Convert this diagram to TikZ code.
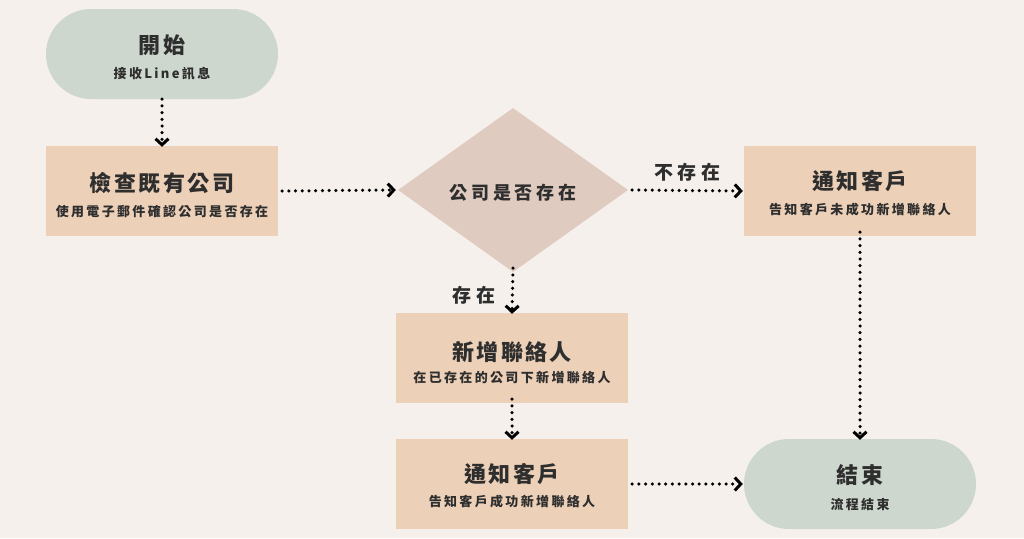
\documentclass[tikz,border=0pt]{standalone}
\usepackage{fontspec}
\newfontfamily\cjk{Noto Sans CJK TC}
\usetikzlibrary{arrows.meta,shapes.geometric,positioning}
\definecolor{bg}{HTML}{F5F0EC}
\definecolor{sage}{HTML}{CDD7CE}
\definecolor{peach}{HTML}{EDD0B8}
\definecolor{rose}{HTML}{E0CBC1}
\definecolor{ink}{HTML}{2E2E2E}
\begin{document}
\begin{tikzpicture}[x=1pt,y=-1pt,
  title/.style={font=\cjk\bfseries\fontsize{22}{24}\selectfont\addfontfeatures{LetterSpace=11}, text=ink},
  sub/.style={font=\cjk\bfseries\fontsize{13}{15}\selectfont\addfontfeatures{LetterSpace=18}, text=ink},
  dtitle/.style={font=\cjk\bfseries\fontsize{18}{20}\selectfont\addfontfeatures{LetterSpace=22}, text=ink},
  lab/.style={font=\cjk\bfseries\fontsize{19}{21}\selectfont\addfontfeatures{LetterSpace=26}, text=ink},
  stepbox/.style={rectangle, fill=peach, minimum width=232pt, minimum height=90pt, align=center, inner sep=0pt},
  pill/.style={rectangle, rounded corners=45pt, fill=sage, minimum width=232pt, minimum height=90pt, align=center, inner sep=0pt},
  decision/.style={diamond, fill=rose, minimum width=230pt, minimum height=164pt, inner sep=0pt, aspect=1.4},
  flow/.style={line width=3.5pt, dash pattern=on 0pt off 6.7pt, line cap=round, -{Straight Barb[length=6pt,width=13pt,line width=3pt,line cap=butt]}}
]
\fill[bg] (0,0) rectangle (1024,538);
\useasboundingbox (0,0) rectangle (1024,538);

\node[pill] (start) at (162,54) {};
\node[title] at (162,45) {開始};
\node[sub] at (162,74) {接收Line訊息};

\node[stepbox] (check) at (162,191) {};
\node[title] at (162,183) {檢查既有公司};
\node[sub] at (162,212) {使用電子郵件確認公司是否存在};

\node[decision] (dec) at (513,190) {};
\node[dtitle] at (513,193) {公司是否存在};

\node[stepbox] (notify1) at (860,191) {};
\node[title] at (860,181) {通知客戶};
\node[sub] at (860,210) {告知客戶未成功新增聯絡人};

\node[stepbox] (add) at (512,358) {};
\node[title] at (512,352) {新增聯絡人};
\node[sub] at (512,378) {在已存在的公司下新增聯絡人};

\node[stepbox] (notify2) at (512,484) {};
\node[title] at (512,474) {通知客戶};
\node[sub] at (512,502) {告知客戶成功新增聯絡人};

\node[pill] (end) at (860,484) {};
\node[title] at (860,475) {結束};
\node[sub] at (860,504) {流程結束};

\draw[flow] (start.south) -- ([yshift=-1pt]check.north);
\draw[flow] ([xshift=4pt]check.east) -- ([xshift=-2pt]dec.west);
\draw[flow] ([xshift=4pt]dec.east) -- node[lab, above=4pt] {不存在} ([xshift=-1pt]notify1.west);
\draw[flow] ([yshift=4pt]dec.south) -- node[lab, left=12pt, pos=0.6] {存在} ([yshift=-1pt]add.north);
\draw[flow] ([yshift=4pt]add.south) -- ([yshift=-1pt]notify2.north);
\draw[flow] ([yshift=4pt]notify1.south) -- ([yshift=-1pt]end.north);
\draw[flow] ([xshift=4pt]notify2.east) -- ([xshift=-1pt]end.west);
\end{tikzpicture}
\end{document}
